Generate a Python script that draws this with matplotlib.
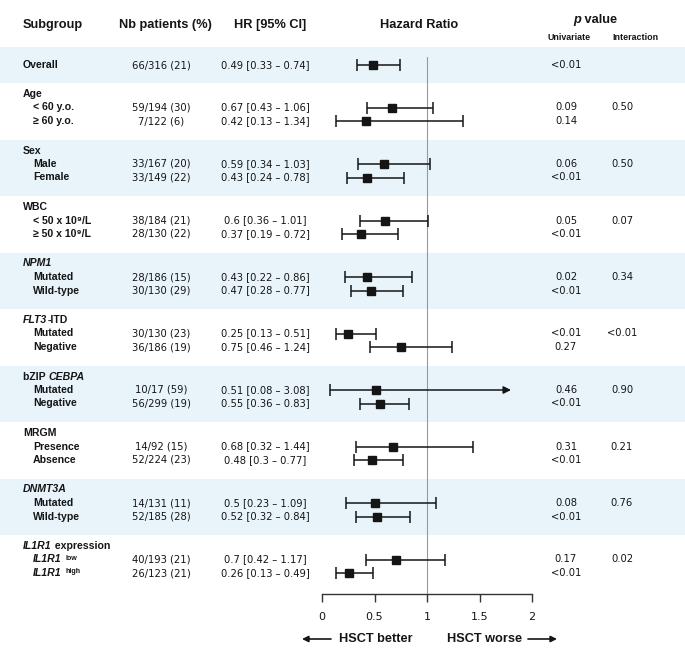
import matplotlib.pyplot as plt

# ---------------------------------------------------------
# Datos
# ---------------------------------------------------------
# Etiquetas de grupo: lista de segmentos (texto, estilo) -> "n" normal, "i" italica
grupos = [
    [("Age", "n")],
    [("Sex", "n")],
    [("WBC", "n")],
    [("NPM1", "i")],
    [("FLT3", "i"), ("-ITD", "n")],
    [("bZIP ", "n"), ("CEBPA", "i")],
    [("MRGM", "n")],
    [("DNMT3A", "i")],
    [("IL1R1", "i"), (" expression", "n")],
]

# Sub-grupos (2 por grupo)
subgrupos = [
    [("< 60 y.o.", "n")], [("≥ 60 y.o.", "n")],
    [("Male", "n")], [("Female", "n")],
    [("< 50 x 10⁹/L", "n")], [("≥ 50 x 10⁹/L", "n")],
    [("Mutated", "n")], [("Wild-type", "n")],
    [("Mutated", "n")], [("Negative", "n")],
    [("Mutated", "n")], [("Negative", "n")],
    [("Presence", "n")], [("Absence", "n")],
    [("Mutated", "n")], [("Wild-type", "n")],
    [("IL1R1", "i"), ("low", "sup")], [("IL1R1", "i"), ("high", "sup")],
]

# Primera fila = Overall, luego los 18 sub-grupos
pacientes = ["66/316 (21)",
             "59/194 (30)", "7/122 (6)",
             "33/167 (20)", "33/149 (22)",
             "38/184 (21)", "28/130 (22)",
             "28/186 (15)", "30/130 (29)",
             "30/130 (23)", "36/186 (19)",
             "10/17 (59)", "56/299 (19)",
             "14/92 (15)", "52/224 (23)",
             "14/131 (11)", "52/185 (28)",
             "40/193 (21)", "26/123 (21)"]
hr = [0.49, 0.67, 0.42, 0.59, 0.43, 0.6, 0.37, 0.43, 0.47, 0.25,
      0.75, 0.51, 0.55, 0.68, 0.48, 0.5, 0.52, 0.7, 0.26]
ic_inf = [0.33, 0.43, 0.13, 0.34, 0.24, 0.36, 0.19, 0.22, 0.28, 0.13,
          0.46, 0.08, 0.36, 0.32, 0.3, 0.23, 0.32, 0.42, 0.13]
ic_sup = [0.74, 1.06, 1.34, 1.03, 0.78, 1.01, 0.72, 0.86, 0.77, 0.51,
          1.24, 3.08, 0.83, 1.44, 0.77, 1.09, 0.84, 1.17, 0.49]
p_uni = ["<0.01", "0.09", "0.14", "0.06", "<0.01", "0.05", "<0.01",
         "0.02", "<0.01", "<0.01", "0.27", "0.46", "<0.01", "0.31",
         "<0.01", "0.08", "<0.01", "0.17", "<0.01"]
# p de interaccion por grupo
p_int = ["0.50", "0.50", "0.07", "0.34", "<0.01", "0.90", "0.21", "0.76", "0.02"]

ticks = [0, 0.5, 1, 1.5, 2]
x_max_flecha = 1.8  # donde se corta el IC que sale del eje

# ---------------------------------------------------------
# Estilo / layout (coordenadas en pixeles de la figura)
# ---------------------------------------------------------
W, H = 685, 661
AZUL = "#e8f4fa"
NEGRO = "#151515"
FAM_B = ["Liberation Sans", "DejaVu Sans"]
FAM_V = ["DejaVu Sans"]

Y_OVERALL = 65
TOP0, ALTO = 83, 56.5

fig = plt.figure(figsize=(W / 100, H / 100), dpi=100)
bg = fig.add_axes([0, 0, 1, 1])
bg.set_xlim(0, W)
bg.set_ylim(H, 0)
bg.axis("off")

# bandas
bg.axhspan(47, TOP0, color=AZUL, lw=0, zorder=0)
for k in range(len(grupos)):
    if k % 2 == 1:
        top = TOP0 + ALTO * k
        bg.axhspan(top, top + ALTO, color=AZUL, lw=0, zorder=0)


def segmentos(ax, x, y, segs, size=7.6):
    t = None
    for txt, estilo in segs:
        kw = dict(fontsize=size, fontweight="bold", family=FAM_B, color=NEGRO)
        if estilo == "i":
            kw["fontstyle"] = "italic"
        if t is None:
            t = ax.text(x, y, txt, ha="left", va="center", **kw)
        elif estilo == "sup":
            kw["fontsize"] = size * 0.68
            t = ax.annotate(txt, xy=(1, 1), xycoords=t, xytext=(2.5, -0.3),
                            textcoords="offset points", ha="left", va="top", **kw)
        else:
            t = ax.annotate(txt, xy=(1, 0), xycoords=t, ha="left",
                            va="bottom", **kw)
    return t


# encabezados
hdr = dict(fontsize=9.2, fontweight="bold", family=FAM_B, color=NEGRO, va="center")
bg.text(23, 25, "Subgroup", ha="left", **hdr)
bg.text(165, 25, "Nb patients (%)", ha="center", **hdr)
bg.text(270, 25, "HR [95% CI]", ha="center", **hdr)
bg.text(419, 25, "Hazard Ratio", ha="center", **hdr)
tp = bg.text(573, 20, "p", ha="left", fontstyle="italic", **hdr)
bg.annotate(" value", xy=(1, 0), xycoords=tp, ha="left", va="bottom",
            fontsize=9.2, fontweight="bold", family=FAM_B, color=NEGRO)
sub = dict(fontsize=6.4, fontweight="bold", family=FAM_B, color=NEGRO,
           va="center", ha="center")
bg.text(569, 37, "Univariate", **sub)
bg.text(635, 37, "Interaction", **sub)

# posiciones y de las filas
y_filas = [Y_OVERALL]
segmentos(bg, 23, Y_OVERALL, [("Overall", "n")])
for k, g in enumerate(grupos):
    top = TOP0 + ALTO * k
    segmentos(bg, 23, top + 11, g)
    for j in range(2):
        y = top + 24.5 + 13.5 * j
        segmentos(bg, 33, y, subgrupos[2 * k + j])
        y_filas.append(y)
    bg.text(622, top + 24.5, p_int[k], ha="center", va="center",
            fontsize=7.2, family=FAM_V, color=NEGRO)

val = dict(fontsize=7.2, family=FAM_V, color=NEGRO, va="center", ha="center")
for i, y in enumerate(y_filas):
    bg.text(161, y, pacientes[i], **val)
    bg.text(265, y, f"{hr[i]:g} [{ic_inf[i]:g} – {ic_sup[i]:g}]", **val)
    bg.text(566, y, p_uni[i], **val)

# ---------------------------------------------------------
# Forest plot
# ---------------------------------------------------------
ax = fig.add_axes([322 / W, (H - 594) / H, 210 / W, (594 - 57) / H])
ax.patch.set_alpha(0)
ax.set_xlim(0, 2)
ax.set_ylim(594, 57)
for s in ("top", "right", "left"):
    ax.spines[s].set_visible(False)
ax.spines["bottom"].set_color("#333333")
ax.spines["bottom"].set_linewidth(1.0)
ax.set_yticks([])
ax.set_xticks(ticks)
ax.set_xticklabels([f"{t:g}" for t in ticks], family=FAM_V)
ax.tick_params(axis="x", direction="out", length=6, width=1,
               colors="#333333", labelcolor=NEGRO, labelsize=8, pad=7)

ax.axvline(1, color="#999999", lw=0.8, zorder=1)

for i, y in enumerate(y_filas):
    if ic_sup[i] > ticks[-1]:
        ax.annotate("", xy=(x_max_flecha, y), xytext=(ic_inf[i], y),
                    arrowprops=dict(arrowstyle="-|>", color=NEGRO, lw=1.1,
                                    mutation_scale=11, shrinkA=0, shrinkB=0),
                    zorder=2)
        ax.plot(ic_inf[i], y, marker="|", markersize=8, mew=1.1,
                color=NEGRO, zorder=2)
        ax.plot(hr[i], y, marker="s", markersize=6, color=NEGRO, zorder=3)
    else:
        ax.errorbar(hr[i], y, xerr=[[hr[i] - ic_inf[i]], [ic_sup[i] - hr[i]]],
                    fmt="s", markersize=6, color=NEGRO, ecolor=NEGRO,
                    elinewidth=1.1, capsize=4, capthick=1.1, zorder=3,
                    clip_on=False)

# flechas inferiores
flecha = dict(arrowstyle="-|>", color=NEGRO, lw=1.2, mutation_scale=9,
              shrinkA=0, shrinkB=0)
bg.annotate("", xy=(302, 639), xytext=(331, 639), arrowprops=flecha)
bg.text(339, 639, "HSCT better", ha="left", **hdr)
bg.text(447, 639, "HSCT worse", ha="left", **hdr)
bg.annotate("", xy=(557, 639), xytext=(528, 639), arrowprops=flecha)

fig.savefig("out.png", dpi=100)
